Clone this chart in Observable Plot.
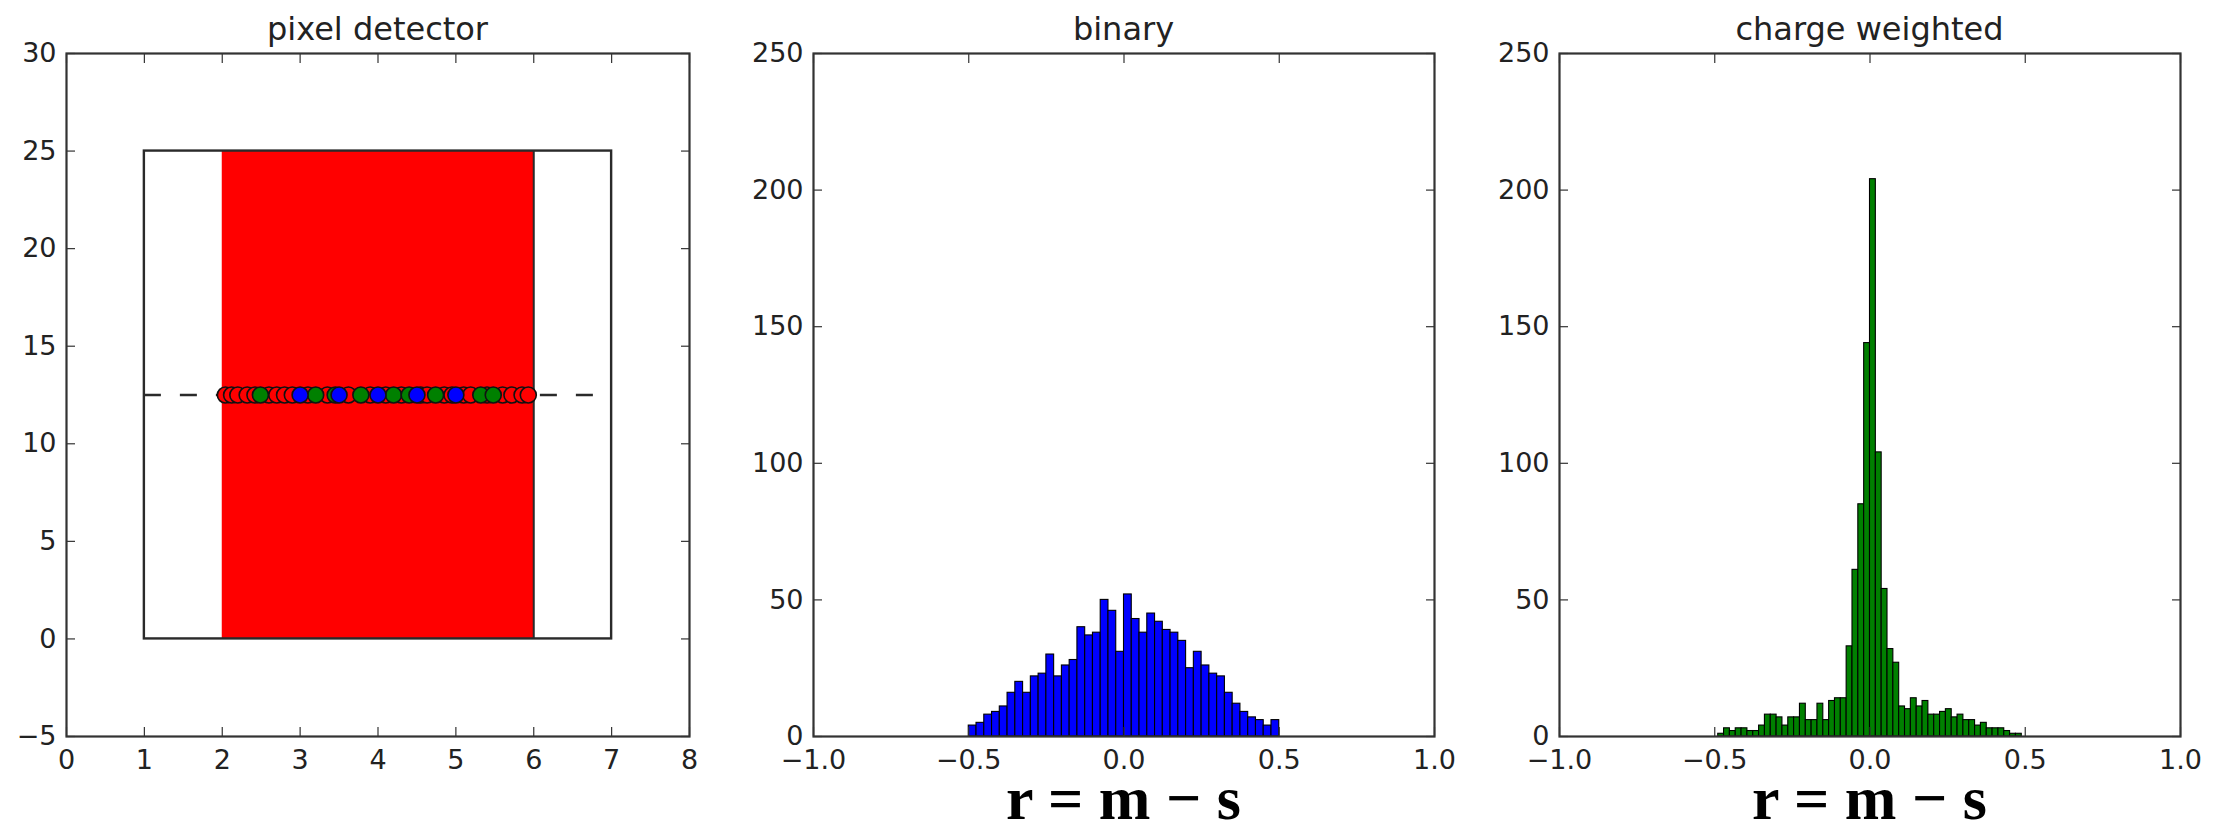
<!DOCTYPE html>
<html><head><meta charset="utf-8">
<script src="https://cdn.jsdelivr.net/npm/d3@7"></script>
<script src="https://cdn.jsdelivr.net/npm/@observablehq/plot@0.6"></script>
<style>
html,body{margin:0;padding:0;background:#fff;}
#root{position:relative;width:2221px;height:829px;overflow:hidden;background:#fff;}
#root > svg, #root > figure{position:absolute;top:0;margin:0;}
</style></head><body><div id="root"></div>
<script>
// ---------- data ----------
const panelTitles = ["pixel detector", "binary", "charge weighted"];
const xAxisLabel = "r = m \u2212 s";

// panel 1: pixel detector
const detectorX = [1, 7];
const detectorY = [0, 25];
const hitBandX = [2, 6];
const pixelLines = [6];
const trackY = [12.5];
const truePositions = [2.04, 2.12, 2.2, 2.32, 2.42, 2.6, 2.7, 2.8, 2.9, 3.1, 3.35, 3.62, 3.9, 4.1, 4.3, 4.55,
                       4.63, 4.85, 4.95, 5.1, 5.19, 5.4, 5.6, 5.72, 5.85, 5.93];
const chargePositions = [2.49, 3.2, 3.45, 3.78, 4.2, 4.4, 4.74, 5.32, 5.48];
const binaryPositions = [3.0, 3.5, 4.0, 4.5, 5.0];
const detXTicks = [0, 1, 2, 3, 4, 5, 6, 7, 8];
const detYTicks = [-5, 0, 5, 10, 15, 20, 25, 30];

// panel 2: binary residuals
const binaryStart = -0.5;
const binaryWidth = 0.025;
const binaryCounts = [4, 5, 8, 9, 11, 16, 20, 16, 22, 23, 30, 22, 26, 28, 40, 37, 38, 50, 46, 31,
                      52, 43, 38, 45, 42, 39, 38, 35, 25, 31, 26, 23, 22, 16, 12, 9, 7, 6, 4, 6];

// panel 3: charge weighted residuals
const chargeStart = -0.4888;
const chargeWidth = 0.0188;
const chargeCounts = [1, 3, 2, 3, 3, 2, 2, 4, 8, 8, 7, 4, 7, 7, 12, 6, 6, 12, 6, 13, 14, 14, 33, 61, 85, 144,
                      204, 104, 54, 32, 27, 11, 10, 14, 11, 13, 8, 8, 9, 10, 7, 8, 6, 6, 4, 5, 3, 3, 3, 2, 1, 1];

const histXTicks = [-1, -0.5, 0, 0.5, 1];
const histYTicks = [0, 50, 100, 150, 200, 250];

// ---------- helpers ----------
const FONT = "DejaVu Sans";
const INK = "#222";
const fmtInt = d3.format("d");
const fmt1 = d3.format(".1f");

function axes(xTicks, yTicks, fx, fy) {
  return [
    Plot.axisX(xTicks, {anchor: "bottom", tickSize: 0, tickPadding: 13, tickFormat: fx, fontSize: 27, fill: INK, label: null}),
    Plot.axisY(yTicks, {anchor: "left", tickSize: 0, tickPadding: 10, tickFormat: fy, fontSize: 27, fill: INK, label: null}),
    Plot.axisX(xTicks, {anchor: "bottom", tickSize: -9, fill: "none", stroke: "#333", strokeWidth: 1.2, label: null}),
    Plot.axisX(xTicks, {anchor: "top", tickSize: -9, fill: "none", stroke: "#333", strokeWidth: 1.2, label: null}),
    Plot.axisY(yTicks, {anchor: "left", tickSize: -9, fill: "none", stroke: "#333", strokeWidth: 1.2, label: null}),
    Plot.axisY(yTicks, {anchor: "right", tickSize: -9, fill: "none", stroke: "#333", strokeWidth: 1.2, label: null}),
    Plot.frame({stroke: "#333", strokeWidth: 2.2})
  ];
}

const root = document.getElementById("root");

function place(chart, left) {
  chart.style.left = left + "px";
  chart.style.position = "absolute";
  chart.style.top = "0px";
  root.appendChild(chart);
}

// ---------- panel 1 ----------
const dotStyle = {x: d => d, y: () => trackY[0], r: 8, stroke: "#111", strokeWidth: 1.6};
const p1 = Plot.plot({
  width: 720, height: 829,
  marginLeft: 66, marginRight: 31, marginTop: 53, marginBottom: 93,
  style: {fontFamily: FONT, background: "transparent", overflow: "visible"},
  x: {domain: [0, 8], axis: null},
  y: {domain: [-5, 30], axis: null},
  marks: [
    Plot.rect([{x1: hitBandX[0], x2: hitBandX[1], y1: detectorY[0], y2: detectorY[1]}],
      {x1: "x1", x2: "x2", y1: "y1", y2: "y2", fill: "#ff0000"}),
    Plot.rect([{x1: detectorX[0], x2: detectorX[1], y1: detectorY[0], y2: detectorY[1]}],
      {x1: "x1", x2: "x2", y1: "y1", y2: "y2", fill: "none", stroke: "#2a2a2a", strokeWidth: 2.4}),
    Plot.ruleX(pixelLines, {y1: detectorY[0], y2: detectorY[1], stroke: "#2a2a2a", strokeWidth: 2}),
    Plot.ruleY(trackY, {x1: detectorX[0], x2: detectorX[1], stroke: "#2a2a2a", strokeWidth: 2.4, strokeDasharray: "17,19"}),
    Plot.dot(truePositions, {...dotStyle, fill: "#ff0000"}),
    Plot.dot(chargePositions, {...dotStyle, fill: "#008000"}),
    Plot.dot(binaryPositions, {...dotStyle, fill: "#0000ff"}),
    ...axes(detXTicks, detYTicks, fmtInt, fmtInt)
  ]
});
place(p1, 0);

// ---------- panel 2 ----------
const binaryData = binaryCounts.map((c, i) => ({x1: binaryStart + i * binaryWidth, x2: binaryStart + (i + 1) * binaryWidth, y: c}));
const p2 = Plot.plot({
  width: 740, height: 829,
  marginLeft: 93, marginRight: 26, marginTop: 53, marginBottom: 93,
  style: {fontFamily: FONT, background: "transparent", overflow: "visible"},
  x: {domain: [-1, 1], axis: null},
  y: {domain: [0, 250], axis: null},
  marks: [
    Plot.rectY(binaryData, {x1: "x1", x2: "x2", y: "y", fill: "#0000ff", stroke: "#000", strokeWidth: 1.1}),
    ...axes(histXTicks, histYTicks, fmt1, fmtInt)
  ]
});
place(p2, 720);

// ---------- panel 3 ----------
const chargeData = chargeCounts.map((c, i) => ({x1: chargeStart + i * chargeWidth, x2: chargeStart + (i + 1) * chargeWidth, y: c}));
const p3 = Plot.plot({
  width: 761, height: 829,
  marginLeft: 99, marginRight: 41, marginTop: 53, marginBottom: 93,
  style: {fontFamily: FONT, background: "transparent", overflow: "visible"},
  x: {domain: [-1, 1], axis: null},
  y: {domain: [0, 250], axis: null},
  marks: [
    Plot.rectY(chargeData, {x1: "x1", x2: "x2", y: "y", fill: "#008000", stroke: "#000", strokeWidth: 1.1}),
    ...axes(histXTicks, histYTicks, fmt1, fmtInt)
  ]
});
place(p3, 1460);

// ---------- titles and x labels ----------
const overlay = d3.create("svg").attr("width", 2221).attr("height", 829)
  .style("position", "absolute").style("left", "0px").style("top", "0px").style("pointer-events", "none");
const titleX = [377.5, 1123.5, 1869.5];
panelTitles.forEach((t, i) => {
  overlay.append("text").attr("x", titleX[i]).attr("y", 40).attr("text-anchor", "middle")
    .attr("font-family", FONT).attr("font-size", 32).attr("fill", INK).text(t);
});
[1123.5, 1869.5].forEach(x => {
  overlay.append("text").attr("x", x).attr("y", 819).attr("text-anchor", "middle")
    .attr("font-family", "Liberation Serif").attr("font-weight", "bold").attr("font-size", 62)
    .attr("fill", "#000").text(xAxisLabel);
});
root.appendChild(overlay.node());
</script></body></html>
